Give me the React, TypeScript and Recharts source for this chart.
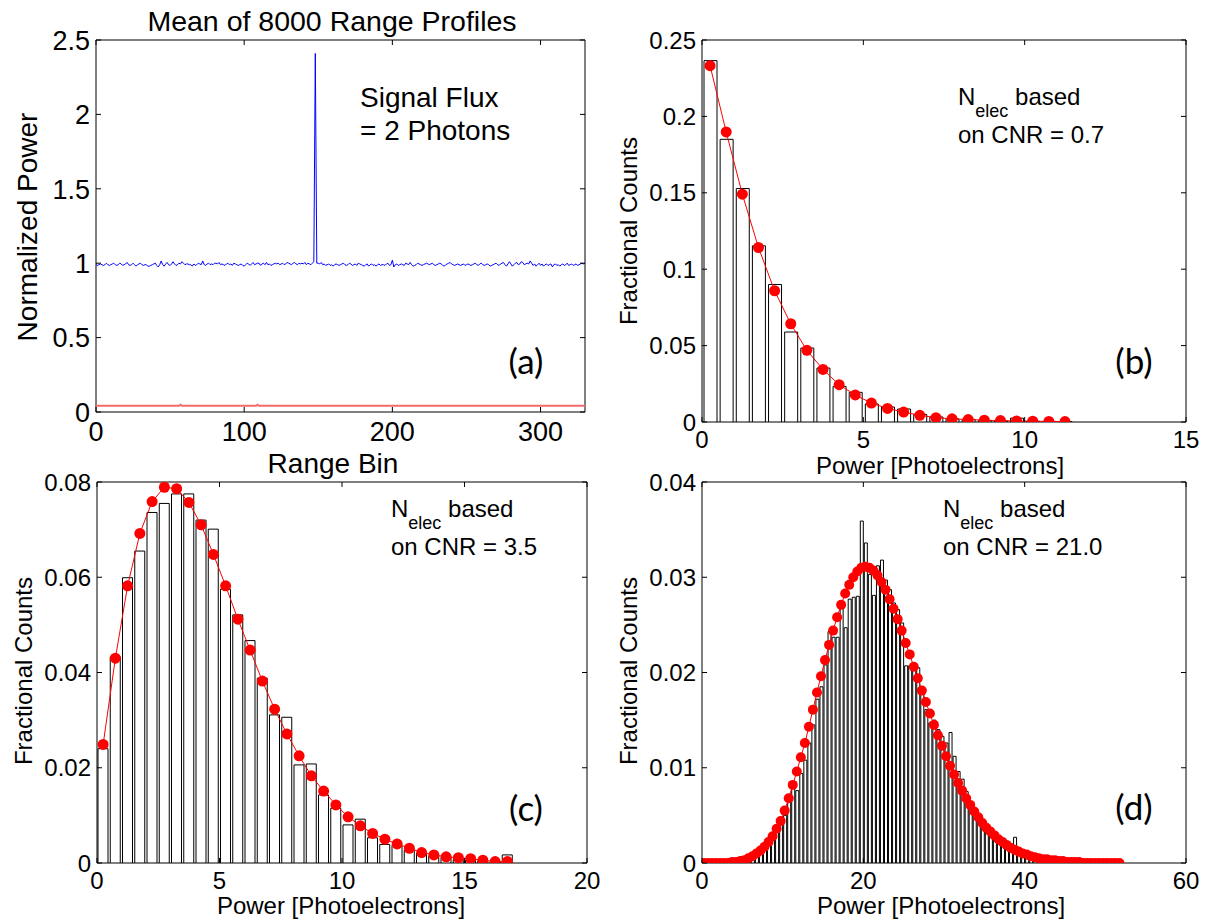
import React from "react";
import { ComposedChart, LineChart, Line, Bar, XAxis, YAxis, ReferenceArea } from "recharts";

const FONT = "'Liberation Sans', Arial, sans-serif";
const CAL = "Lato, 'Open Sans', sans-serif";

// (a) mean of 8000 range profiles, one value per range bin 0..330
const profileMean = [
  0.99, 0.985, 0.99, 0.995, 0.99, 0.985, 0.99, 1.0, 0.99, 0.985,
  0.99, 0.995, 1.0, 0.99, 0.985, 0.99, 1.0, 0.995, 0.985, 0.99,
  0.995, 1.005, 0.99, 0.985, 0.99, 1.0, 0.99, 0.98, 0.99, 0.995,
  1.0, 0.99, 0.985, 0.99, 0.99, 0.98, 0.98, 0.985, 0.99, 0.995,
  1.0, 0.985, 0.975, 0.99, 1.015, 0.99, 0.98, 0.995, 1.005, 0.99,
  0.985, 0.995, 1.01, 0.995, 0.985, 0.99, 1.0, 0.995, 1.01, 1.0,
  0.99, 0.995, 0.995, 0.99, 0.99, 0.98, 0.995, 0.985, 0.99, 1.0,
  0.995, 0.99, 1.015, 0.99, 0.985, 0.995, 1.0, 0.99, 0.995, 0.99,
  1.0, 1.0, 0.995, 1.005, 0.99, 0.995, 0.99, 0.985, 0.995, 1.0,
  0.99, 0.995, 0.985, 1.0, 0.995, 0.99, 0.985, 0.99, 0.995, 0.985,
  0.98, 0.99, 1.0, 0.995, 0.985, 0.995, 1.005, 0.99, 0.995, 1.0,
  1.0, 0.985, 0.995, 1.0, 0.99, 1.005, 0.99, 0.995, 0.985, 0.99,
  0.995, 1.0, 0.995, 1.0, 0.99, 0.995, 1.0, 0.99, 0.995, 1.005,
  1.0, 0.995, 0.99, 1.0, 1.005, 0.995, 0.99, 1.0, 0.995, 1.0,
  0.995, 1.005, 0.99, 1.0, 0.995, 0.99, 1.0, 1.01, 2.41, 1.0,
  1.0, 0.995, 1.005, 0.99, 0.995, 0.985, 0.99, 0.995, 0.985, 0.99,
  0.98, 0.99, 0.995, 0.99, 0.985, 0.99, 0.995, 1.0, 0.99, 0.985,
  0.99, 1.0, 0.995, 0.985, 0.99, 0.995, 0.985, 1.0, 0.995, 0.99,
  0.985, 0.98, 0.99, 0.995, 0.98, 0.99, 0.995, 0.985, 0.99, 0.98,
  0.99, 0.995, 0.985, 0.99, 0.99, 0.985, 0.995, 1.0, 0.985, 0.99,
  1.02, 0.975, 0.99, 0.995, 0.985, 0.99, 0.995, 0.99, 0.985, 1.0,
  0.995, 0.99, 1.005, 0.99, 0.98, 0.985, 0.99, 1.0, 0.995, 0.99,
  0.985, 0.99, 0.995, 1.0, 0.995, 0.99, 0.995, 1.0, 0.99, 0.985,
  0.99, 0.995, 1.0, 0.995, 0.985, 0.98, 0.99, 0.995, 1.0, 1.005,
  0.995, 0.99, 0.985, 0.99, 0.995, 0.99, 0.985, 0.99, 0.995, 0.985,
  0.99, 0.995, 0.99, 0.985, 0.99, 0.995, 1.0, 0.99, 0.985, 0.995,
  1.0, 0.99, 0.985, 0.99, 0.995, 0.99, 0.98, 0.985, 0.99, 0.995,
  1.0, 0.99, 0.985, 0.995, 1.0, 1.005, 0.99, 0.98, 0.995, 1.01,
  0.995, 0.98, 0.99, 1.0, 1.005, 0.99, 0.995, 1.01, 1.005, 0.99,
  0.995, 1.0, 0.995, 1.015, 1.0, 0.985, 0.995, 0.98, 0.99, 1.0,
  0.985, 0.995, 0.98, 0.99, 0.995, 0.985, 0.99, 0.995, 0.975, 0.99,
  0.995, 0.985, 0.99, 0.98, 0.99, 0.995, 0.985, 0.99, 1.0, 0.985,
  0.99, 0.995, 0.985, 0.99, 0.995, 0.985, 0.99, 0.995, 1.0, 0.995,
  1.0,
];
const floorBins = [0, 56, 57, 58, 108, 109, 110, 330];
const floorLevel = [0.042, 0.042, 0.049, 0.042, 0.042, 0.049, 0.042, 0.042];
const aXTicks = [0, 100, 200, 300];
const aYTicks = [0, 0.5, 1, 1.5, 2, 2.5];

// (b) CNR = 0.7
const bCenters = [0.25, 0.75, 1.25, 1.75, 2.25, 2.75, 3.25, 3.75, 4.25, 4.75, 5.25, 5.75, 6.25, 6.75, 7.25, 7.75, 8.25, 8.75, 9.25, 9.75, 10.25, 10.75, 11.25];
const bCounts = [0.2365, 0.185, 0.1528, 0.1153, 0.09, 0.0589, 0.0484, 0.0353, 0.0233, 0.0194, 0.0118, 0.0098, 0.0085, 0.005, 0.0033, 0.002, 0.0017, 0.001, 0.0007, 0.0025, 0.0005, 0.0003, 0.0003];
const bFit = [0.2332, 0.1898, 0.1491, 0.1142, 0.0859, 0.0643, 0.0469, 0.0344, 0.0244, 0.0177, 0.0124, 0.0089, 0.0065, 0.0044, 0.0028, 0.0021, 0.0016, 0.0012, 0.0009, 0.0007, 0.0005, 0.0004, 0.0003];
const bXTicks = [0, 5, 10, 15];
const bYTicks = [0, 0.05, 0.1, 0.15, 0.2, 0.25];

// (c) CNR = 3.5
const cCenters = [0.25, 0.75, 1.25, 1.75, 2.25, 2.75, 3.25, 3.75, 4.25, 4.75, 5.25, 5.75, 6.25, 6.75, 7.25, 7.75, 8.25, 8.75, 9.25, 9.75, 10.25, 10.75, 11.25, 11.75, 12.25, 12.75, 13.25, 13.75, 14.25, 14.75, 15.25, 15.75, 16.25, 16.75];
const cCounts = [0.024, 0.0433, 0.0599, 0.0655, 0.0736, 0.0755, 0.0775, 0.0775, 0.072, 0.0701, 0.0575, 0.0521, 0.0467, 0.0388, 0.0311, 0.0306, 0.0206, 0.0208, 0.0143, 0.0115, 0.008, 0.0092, 0.0053, 0.0039, 0.0037, 0.0027, 0.0021, 0.0015, 0.0012, 0.0008, 0.0006, 0.0004, 0.0002, 0.0017];
const cFit = [0.0249, 0.043, 0.0582, 0.0692, 0.0759, 0.0789, 0.0786, 0.0757, 0.071, 0.0648, 0.0582, 0.0512, 0.0447, 0.0382, 0.0323, 0.0271, 0.0225, 0.0183, 0.0151, 0.0122, 0.0097, 0.0078, 0.0062, 0.005, 0.004, 0.0031, 0.0022, 0.0017, 0.0013, 0.0011, 0.0009, 0.0006, 0.0003, 0.0003];
const cXTicks = [0, 5, 10, 15, 20];
const cYTicks = [0, 0.02, 0.04, 0.06, 0.08];

// (d) CNR = 21.0
const dCenters = [
  0.25, 0.75, 1.25, 1.75, 2.25, 2.75, 3.25, 3.75, 4.25, 4.75,
  5.25, 5.75, 6.25, 6.75, 7.25, 7.75, 8.25, 8.75, 9.25, 9.75,
  10.25, 10.75, 11.25, 11.75, 12.25, 12.75, 13.25, 13.75, 14.25, 14.75,
  15.25, 15.75, 16.25, 16.75, 17.25, 17.75, 18.25, 18.75, 19.25, 19.75,
  20.25, 20.75, 21.25, 21.75, 22.25, 22.75, 23.25, 23.75, 24.25, 24.75,
  25.25, 25.75, 26.25, 26.75, 27.25, 27.75, 28.25, 28.75, 29.25, 29.75,
  30.25, 30.75, 31.25, 31.75, 32.25, 32.75, 33.25, 33.75, 34.25, 34.75,
  35.25, 35.75, 36.25, 36.75, 37.25, 37.75, 38.25, 38.75, 39.25, 39.75,
  40.25, 40.75, 41.25, 41.75, 42.25, 42.75, 43.25, 43.75, 44.25, 44.75,
  45.25, 45.75, 46.25, 46.75, 47.25, 47.75, 48.25, 48.75, 49.25, 49.75,
  50.25, 50.75, 51.25, 51.75,
];
const dCounts = [
  0, 0, 0, 0, 0, 0, 0, 0, 0, 0,
  0, 0.0002, 0.0004, 0.0007, 0.0011, 0.0017, 0.0019, 0.0026, 0.0035, 0.0043,
  0.005, 0.0066, 0.008, 0.0076, 0.0094, 0.0108, 0.0126, 0.0145, 0.0172, 0.0185,
  0.0208, 0.0243, 0.0237, 0.0237, 0.0267, 0.0247, 0.0277, 0.0279, 0.028, 0.0359,
  0.0336, 0.0303, 0.0281, 0.0312, 0.0318, 0.0297, 0.0287, 0.0273, 0.0266, 0.0252,
  0.0207, 0.0207, 0.021, 0.0205, 0.0182, 0.0161, 0.0147, 0.015, 0.014, 0.0133,
  0.0126, 0.0137, 0.0112, 0.0096, 0.0088, 0.0075, 0.0064, 0.0056, 0.005, 0.0042,
  0.0035, 0.003, 0.0024, 0.0021, 0.0019, 0.0015, 0.0012, 0.0027, 0.001, 0.0008,
  0.0006, 0.0004, 0.0003, 0.0002, 0.0002, 0.0001, 0.0001, 0, 0, 0,
  0, 0, 0, 0, 0, 0, 0, 0, 0, 0,
  0, 0, 0, 0,
];
const dFit = [
  0, 0, 0, 0, 0, 0, 0, 0.0001, 0.0001, 0.0002,
  0.0003, 0.0005, 0.0007, 0.001, 0.0013, 0.0017, 0.0022, 0.0028, 0.0036, 0.0044,
  0.0055, 0.0068, 0.0082, 0.0096, 0.0111, 0.0126, 0.0143, 0.0161, 0.0179, 0.0196,
  0.0213, 0.0229, 0.0244, 0.0258, 0.0271, 0.0283, 0.0292, 0.03, 0.0306, 0.031,
  0.0311, 0.031, 0.0307, 0.0302, 0.0295, 0.0287, 0.0277, 0.0267, 0.0256, 0.0244,
  0.0231, 0.0219, 0.0206, 0.0194, 0.0181, 0.0169, 0.0157, 0.0145, 0.0134, 0.0123,
  0.0112, 0.0102, 0.0093, 0.0084, 0.0076, 0.0068, 0.0061, 0.0054, 0.0048, 0.0042,
  0.0037, 0.0033, 0.0029, 0.0025, 0.0022, 0.0019, 0.0016, 0.0014, 0.0012, 0.001,
  0.0009, 0.0007, 0.0006, 0.0005, 0.0004, 0.0004, 0.0003, 0.0003, 0.0002, 0.0002,
  0.0001, 0.0001, 0.0001, 0.0001, 0, 0, 0, 0, 0, 0,
  0, 0, 0, 0,
];
const dXTicks = [0, 20, 40, 60];
const dYTicks = [0, 0.01, 0.02, 0.03, 0.04];

type Box = { L: number; R: number; T: number; B: number };
const boxA: Box = { L: 96, R: 585, T: 40, B: 412 };
const boxB: Box = { L: 702, R: 1186, T: 40, B: 422 };
const boxC: Box = { L: 97, R: 587, T: 482, B: 863 };
const boxD: Box = { L: 702, R: 1186, T: 482, B: 863 };

const YW = 90;
const XH = 50;
const MT = 24;
const MR = 24;

function yTick(plotW: number, fontSize: number, gap: number) {
  return (props: any) => {
    const { x, y, payload } = props;
    const left = x + gap;
    return (
      <g>
        <line x1={left} x2={left + 5} y1={y} y2={y} stroke="#000" />
        <line x1={left + plotW} x2={left + plotW - 5} y1={y} y2={y} stroke="#000" />
        <text x={x} y={y} dy="0.36em" textAnchor="end" fontSize={fontSize} fontFamily={FONT} fill="#000">
          {payload.value}
        </text>
      </g>
    );
  };
}

function xTick(plotH: number, fontSize: number, gap: number) {
  return (props: any) => {
    const { x, y, payload } = props;
    const bottom = y - gap;
    return (
      <g>
        <line x1={x} x2={x} y1={bottom} y2={bottom - 5} stroke="#000" />
        <line x1={x} x2={x} y1={bottom - plotH} y2={bottom - plotH + 5} stroke="#000" />
        <text x={x} y={y} dy="0.71em" textAnchor="middle" fontSize={fontSize} fontFamily={FONT} fill="#000">
          {payload.value}
        </text>
      </g>
    );
  };
}

function wrapStyle(b: Box): React.CSSProperties {
  return { position: "absolute", left: b.L - YW, top: b.T - MT };
}

function HistPanel(props: {
  box: Box;
  centers: number[];
  counts: number[];
  fit: number[];
  xMax: number;
  yMax: number;
  xTicks: number[];
  yTicks: number[];
  dotR: number;
}) {
  const { box, centers, counts, fit, xMax, yMax, xTicks, yTicks, dotR } = props;
  const pw = box.R - box.L;
  const ph = box.B - box.T;
  const data = centers.map((c, i) => ({ x: c, count: counts[i], fit: fit[i] }));
  const barSize = Math.max(2, Math.round((pw / xMax) * 0.5 * 0.8));
  return (
    <div style={wrapStyle(box)}>
      <ComposedChart width={YW + pw + MR} height={MT + ph + XH} data={data} margin={{ top: MT, right: MR, bottom: 0, left: 0 }}>
        <XAxis
          dataKey="x"
          type="number"
          domain={[0, xMax]}
          ticks={xTicks}
          interval={0}
          allowDataOverflow
          height={XH}
          axisLine={false}
          tickLine={false}
          tickSize={0}
          tickMargin={9}
          tick={xTick(ph, 24, 9)}
        />
        <YAxis
          type="number"
          domain={[0, yMax]}
          ticks={yTicks}
          interval={0}
          allowDataOverflow
          width={YW}
          axisLine={false}
          tickLine={false}
          tickSize={0}
          tickMargin={6}
          tick={yTick(pw, 24, 6)}
        />
        <Bar dataKey="count" fill="#ffffff" stroke="#000000" strokeWidth={1} barSize={barSize} isAnimationActive={false} />
        <Line
          dataKey="fit"
          type="linear"
          stroke="#ff0000"
          strokeWidth={1}
          dot={{ r: dotR, fill: "#ff0000", stroke: "none" }}
          isAnimationActive={false}
        />
        <ReferenceArea x1={0} x2={xMax} y1={0} y2={yMax} fill="none" stroke="#000" strokeWidth={1} ifOverflow="visible" />
      </ComposedChart>
    </div>
  );
}

function ProfilePanel() {
  const box = boxA;
  const pw = box.R - box.L;
  const ph = box.B - box.T;
  const blue = profileMean.map((v, i) => ({ bin: i, v }));
  const red = floorBins.map((b, i) => ({ bin: b, v: floorLevel[i] }));
  return (
    <div style={wrapStyle(box)}>
      <LineChart width={YW + pw + MR} height={MT + ph + XH} margin={{ top: MT, right: MR, bottom: 0, left: 0 }}>
        <XAxis
          dataKey="bin"
          type="number"
          domain={[0, 330]}
          ticks={aXTicks}
          interval={0}
          allowDataOverflow
          height={XH}
          axisLine={false}
          tickLine={false}
          tickSize={0}
          tickMargin={10}
          tick={xTick(ph, 27, 10)}
        />
        <YAxis
          type="number"
          domain={[0, 2.5]}
          ticks={aYTicks}
          interval={0}
          allowDataOverflow
          width={YW}
          axisLine={false}
          tickLine={false}
          tickSize={0}
          tickMargin={6}
          tick={yTick(pw, 27, 6)}
        />
        <Line data={red} dataKey="v" type="linear" stroke="#f46b6b" strokeWidth={2} dot={false} isAnimationActive={false} />
        <Line data={blue} dataKey="v" type="linear" stroke="#0000ff" strokeWidth={1} dot={false} isAnimationActive={false} />
        <ReferenceArea x1={0} x2={330} y1={0} y2={2.5} fill="none" stroke="#000" strokeWidth={1} ifOverflow="visible" />
      </LineChart>
    </div>
  );
}

function Nelec(props: { x: number; y: number; cnr: string }) {
  const { x, y, cnr } = props;
  return (
    <g fontFamily={FONT} fill="#000">
      <text x={x} y={y} fontSize={24}>
        N
        <tspan dy={12} fontSize={18}>elec</tspan>
        <tspan dy={-12} fontSize={24}> based</tspan>
      </text>
      <text x={x} y={y + 38} fontSize={24}>
        on CNR = {cnr}
      </text>
    </g>
  );
}

function Labels() {
  return (
    <svg width={1210} height={921} style={{ position: "absolute", left: 0, top: 0, pointerEvents: "none" }}>
      <g fontFamily={FONT} fill="#000">
        <text x={332} y={31} fontSize={28.5} textAnchor="middle">Mean of 8000 Range Profiles</text>
        <text transform="translate(37,227) rotate(-90)" fontSize={28} textAnchor="middle">Normalized Power</text>
        <text x={333} y={473} fontSize={28} textAnchor="middle">Range Bin</text>
        <text x={360} y={107} fontSize={28}>Signal Flux</text>
        <text x={360} y={140} fontSize={28}>= 2 Photons</text>

        <text transform="translate(637,231) rotate(-90)" fontSize={24} textAnchor="middle">Fractional Counts</text>
        <text x={940} y={474} fontSize={24} textAnchor="middle">Power [Photoelectrons]</text>

        <text transform="translate(32,671) rotate(-90)" fontSize={24} textAnchor="middle">Fractional Counts</text>
        <text x={341} y={914} fontSize={24} textAnchor="middle">Power [Photoelectrons]</text>

        <text transform="translate(637,671) rotate(-90)" fontSize={24} textAnchor="middle">Fractional Counts</text>
        <text x={941} y={914} fontSize={24} textAnchor="middle">Power [Photoelectrons]</text>
      </g>
      <Nelec x={958} y={105} cnr="0.7" />
      <Nelec x={391} y={517} cnr="3.5" />
      <Nelec x={943} y={517} cnr="21.0" />
      <g fontFamily={CAL} fill="#000" fontSize={35} textAnchor="middle">
        <text x={526} y={374}>(a)</text>
        <text x={1134} y={374}>(b)</text>
        <text x={526} y={821}>(c)</text>
        <text x={1134} y={820}>(d)</text>
      </g>
    </svg>
  );
}

export default function App() {
  return (
    <div style={{ position: "absolute", left: 0, top: 0, width: 1210, height: 921, background: "#fff" }}>
      <ProfilePanel />
      <HistPanel box={boxB} centers={bCenters} counts={bCounts} fit={bFit} xMax={15} yMax={0.25} xTicks={bXTicks} yTicks={bYTicks} dotR={5.5} />
      <HistPanel box={boxC} centers={cCenters} counts={cCounts} fit={cFit} xMax={20} yMax={0.08} xTicks={cXTicks} yTicks={cYTicks} dotR={5.5} />
      <HistPanel box={boxD} centers={dCenters} counts={dCounts} fit={dFit} xMax={60} yMax={0.04} xTicks={dXTicks} yTicks={dYTicks} dotR={5} />
      <Labels />
    </div>
  );
}
